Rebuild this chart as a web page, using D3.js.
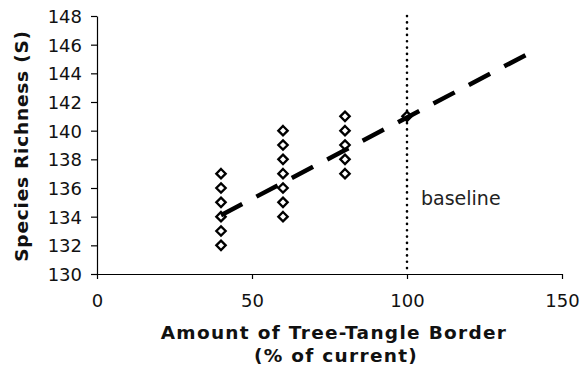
<!DOCTYPE html>
<html>
<head>
<meta charset="utf-8">
<script src="https://cdn.jsdelivr.net/npm/d3@7"></script>
<style>
  body { margin: 0; background: #fff; }
  svg { display: block; font-family: "DejaVu Sans", Verdana, sans-serif; }
</style>
</head>
<body>
<svg width="583" height="368"></svg>
<script>
// survey points (amount of border, species richness)
const borderPct = [40, 40, 40, 40, 40, 40, 60, 60, 60, 60, 60, 60, 60, 80, 80, 80, 80, 80, 100];
const richness  = [132, 133, 134, 135, 136, 137, 134, 135, 136, 137, 138, 139, 140, 137, 138, 139, 140, 141, 141];

// trend line ends
const trendX = [40, 138.5];
const trendY = [134.1, 145.3];

const baselineX = 100;
const xTicks = [0, 50, 100, 150];
const yTicks = [130, 132, 134, 136, 138, 140, 142, 144, 146, 148];

const svg = d3.select("svg");
const plotL = 97, plotR = 562, plotT = 16, plotB = 274;

const x = d3.scaleLinear().domain([0, 150]).range([plotL, plotR]);
const y = d3.scaleLinear().domain([130, 148]).range([plotB, plotT]);

const xAxis = svg.append("g")
  .attr("transform", `translate(0,${plotB})`)
  .call(d3.axisBottom(x).tickValues(xTicks).tickSize(5).tickPadding(19).tickSizeOuter(0));

const yAxis = svg.append("g")
  .attr("transform", `translate(${plotL},0)`)
  .call(d3.axisLeft(y).tickValues(yTicks).tickSize(6).tickPadding(9).tickSizeOuter(0));

[xAxis, yAxis].forEach(g => {
  g.selectAll("text").attr("font-size", 18).attr("font-family", "DejaVu Sans, Verdana, sans-serif").attr("fill", "#111");
  g.selectAll("line, path").attr("stroke", "#000").attr("stroke-width", 1.2);
});
yAxis.selectAll("text").attr("dy", "0.36em");
xAxis.selectAll("text").attr("dy", "0.5em");

// baseline
svg.append("line")
  .attr("x1", x(baselineX)).attr("x2", x(baselineX))
  .attr("y1", y(148)).attr("y2", plotB)
  .attr("stroke", "#000").attr("stroke-width", 2.6)
  .attr("stroke-dasharray", "0.1 6.2").attr("stroke-linecap", "round");

svg.append("text")
  .attr("x", x(baselineX) + 14).attr("y", 205)
  .attr("font-size", 19).attr("fill", "#222")
  .text("baseline");

// points
const sym = d3.symbol().type(d3.symbolDiamond2).size(56);
svg.append("g").selectAll("path")
  .data(borderPct.map((b, i) => [b, richness[i]]))
  .join("path")
  .attr("transform", d => `translate(${x(d[0])},${y(d[1])})`)
  .attr("d", sym)
  .attr("fill", "#fff").attr("stroke", "#000").attr("stroke-width", 2.3);

// trend
svg.append("path")
  .datum(trendX.map((v, i) => [v, trendY[i]]))
  .attr("d", d3.line().x(d => x(d[0])).y(d => y(d[1])))
  .attr("stroke", "#000").attr("stroke-width", 4.5).attr("fill", "none")
  .attr("stroke-dasharray", "24 16");

// titles
const titleStyle = t => t.attr("text-anchor", "middle")
  .attr("font-size", 18.5).attr("font-weight", "bold").attr("fill", "#111")
  .attr("letter-spacing", 1.3);

svg.append("text")
  .attr("transform", `translate(28,146) rotate(-90)`)
  .call(titleStyle)
  .attr("letter-spacing", 0.8)
  .text("Species Richness (S)");

svg.append("text")
  .attr("x", 334).attr("y", 339)
  .call(titleStyle)
  .text("Amount of Tree-Tangle Border");

svg.append("text")
  .attr("x", 336).attr("y", 362)
  .call(titleStyle)
  .text("(% of current)");
</script>
</body>
</html>
